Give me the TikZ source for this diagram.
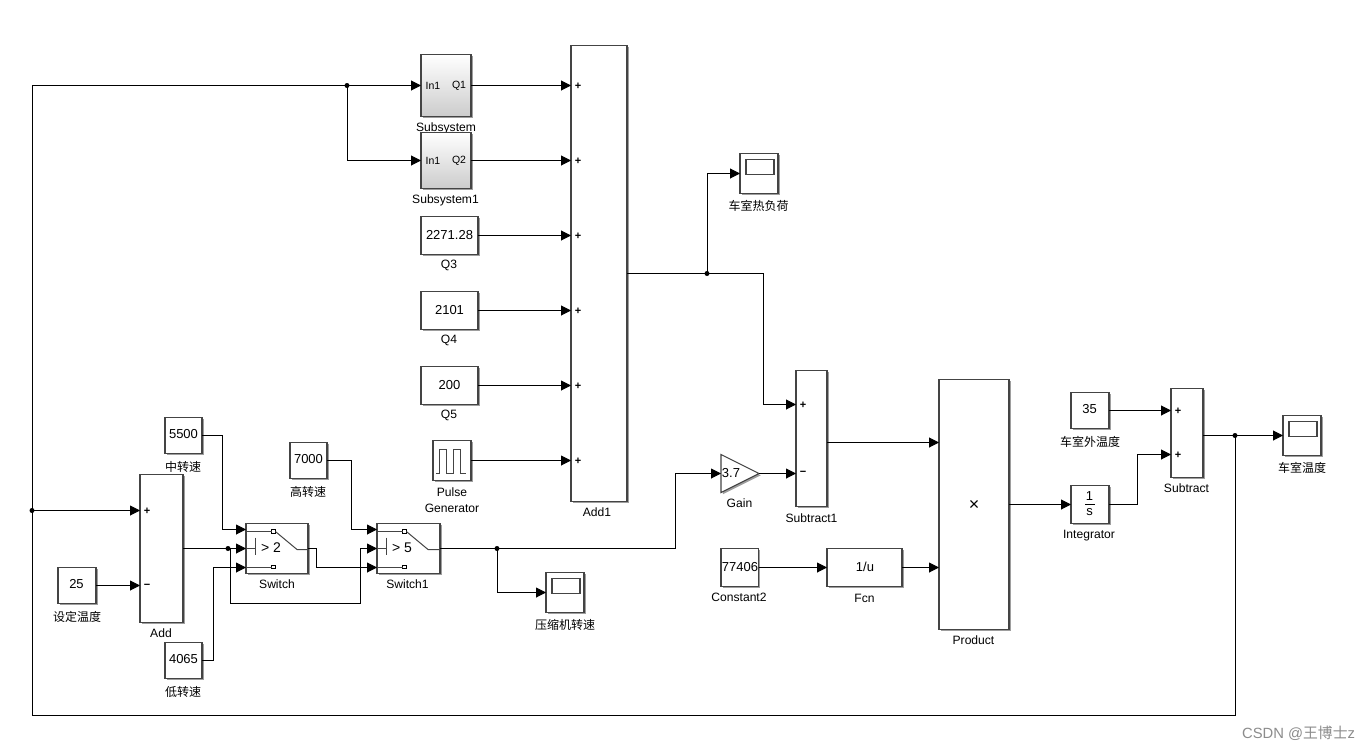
\documentclass[tikz,border=0pt]{standalone}
\usepackage{fontspec}
\setmainfont{Liberation Sans}
\newfontfamily\cjk{Noto Sans CJK SC}
\usetikzlibrary{arrows.meta,shadows}
\definecolor{edge}{HTML}{444444}
\tikzset{
  blockbase/.style={draw=edge,line width=1.35pt,fill=white,inner sep=0pt,outer sep=0pt,
    drop shadow={shadow xshift=1.8pt,shadow yshift=-1.8pt,opacity=.38,fill=black}},
  gradblock/.style={blockbase,top color=white,middle color=white,bottom color=black!20},
  val/.style={inner sep=0pt,font=\fontsize{13}{13}\selectfont},
  lbl/.style={inner sep=0pt,yshift=-.6pt,font=\fontsize{12.1}{12}\selectfont},
  cjklbl/.style={inner sep=0pt,font=\fontsize{12}{12}\selectfont\cjk},
  small/.style={inner sep=0pt,font=\fontsize{10.5}{11}\selectfont},
  sign/.style={inner sep=0pt,font=\fontsize{11}{11}\selectfont\bfseries},
  wire/.style={draw=black,line width=1pt,-{Triangle[length=10pt,width=10pt]}},
  plainwire/.style={draw=black,line width=1pt},
  dot/.style={circle,fill=black,inner sep=0pt,minimum size=5pt},
  inner/.style={draw=edge,line width=1pt},
  portmark/.style={draw=black,line width=1pt,fill=white,inner sep=0pt,minimum size=3.8pt,outer sep=0pt},
}
% a block given by its left, top, right and bottom edges
\newcommand\blk[7]{\node[#6,minimum width={(#4-#2)*1pt},minimum height={(#5-#3)*1pt}] (#1)
  at ({(#2+#4)/2},{(#3+#5)/2}) {#7};}
% inner drawing of a scope display: frame at offset from the block's corner
\newcommand\scopescreen[3]{\node[inner sep=0pt,draw=edge,line width=1.2pt,fill=white,minimum width=28pt,minimum height=15pt] (#1) at ({#2+20},{#3+13.5}) {};}
% inner drawing of a switch whose left edge is at x=#1
\newcommand\switchicon[3]{%
  \node[portmark] (#2top) at ({#1+27.5},531) {};
  \node[portmark] (#2bot) at ({#1+27.5},566.5) {};
  \draw[inner] (#1,531) -- (#2top.west);
  \draw[inner] (#1,566.5) -- (#2bot.west);
  \draw[inner] (#1,548) -- ({#1+9},548);
  \draw[inner] ({#1+9},537) -- ({#1+9},554);
  \draw[inner] (#2top.east) -- ({#1+51},549) -- ({#1+62},549);
  \node[inner sep=0pt,font=\fontsize{14}{14}\selectfont] (#2text) at ({#1+25},547) {#3};}

\begin{document}
\begin{tikzpicture}[x=1pt,y=-1pt]
\useasboundingbox[fill=white] (0,0) rectangle (1371,750);
\begin{scope}[shift={(0,.5)}]

% block captions (drawn first: the Subsystem caption runs under the block below it)
\node[lbl] (lSub) at (446,127) {Subsystem};
\node[lbl] (lSub1) at (445.5,199) {Subsystem1};
\node[lbl] (lQ3) at (449,264) {Q3};
\node[lbl] (lQ4) at (449,339) {Q4};
\node[lbl] (lQ5) at (449,414) {Q5};
\node[lbl] (lPulseA) at (452,491) {Pulse};
\node[lbl] (lPulseB) at (452,507) {Generator};
\node[lbl] (lAdd1) at (597,511) {Add1};
\node[cjklbl] (lHeat) at (758.5,205) {车室热负荷};
\node[cjklbl] (lMid) at (183,466) {中转速};
\node[cjklbl] (lHigh) at (308,491) {高转速};
\node[cjklbl] (lSet) at (77,616) {设定温度};
\node[lbl] (lAdd) at (161,632) {Add};
\node[cjklbl] (lLow) at (183,691) {低转速};
\node[lbl] (lSw) at (277,583) {Switch};
\node[lbl] (lSw1) at (407.5,583) {Switch1};
\node[cjklbl] (lComp) at (565,624) {压缩机转速};
\node[lbl] (lGain) at (739.5,502) {Gain};
\node[lbl] (lSubt1) at (811.5,517) {Subtract1};
\node[lbl] (lConst) at (739,596) {Constant2};
\node[lbl] (lFcn) at (864.5,597) {Fcn};
\node[lbl] (lProd) at (973.5,639) {Product};
\node[cjklbl] (lOut) at (1090,441) {车室外温度};
\node[lbl] (lInt) at (1089,534) {Integrator};
\node[lbl] (lSubt) at (1186.5,487) {Subtract};
\node[cjklbl] (lCab) at (1302,467) {车室温度};

% upper column
\blk{subA}{421}{54}{471}{116}{gradblock}{}
\blk{subB}{421}{132}{471}{188}{gradblock}{}
\blk{q3}{421}{216}{478}{254}{blockbase}{}
\blk{q4}{421}{291}{478}{329}{blockbase}{}
\blk{q5}{421}{366}{478}{404}{blockbase}{}
\blk{pulse}{433}{440}{471}{480}{blockbase}{}
\blk{add1}{571}{45}{627}{501}{blockbase}{}
\blk{scA}{740}{153}{778}{193}{blockbase}{}

% lower left
\blk{c5500}{165}{417}{202}{453}{blockbase}{}
\blk{c7000}{290}{442}{327}{478}{blockbase}{}
\blk{add}{140}{474}{183}{622}{blockbase}{}
\blk{c25}{58}{567}{96}{603}{blockbase}{}
\blk{c4065}{165}{642}{202}{678}{blockbase}{}
\blk{sw}{246}{523}{308}{573}{blockbase}{}
\blk{swB}{377}{523}{440}{573}{blockbase}{}
\blk{scB}{546}{572}{584}{612}{blockbase}{}

% lower right
\blk{sub1}{796}{370}{827}{506}{blockbase}{}
\blk{c77}{721}{548}{758.5}{586}{blockbase}{}
\blk{fcn}{827}{548}{902}{586}{blockbase}{}
\blk{prod}{939}{379}{1009}{629}{blockbase}{}
\blk{c35}{1071}{392}{1109}{428}{blockbase}{}
\blk{integ}{1071}{485}{1109}{523}{blockbase}{}
\blk{subt}{1171}{388}{1203}{477}{blockbase}{}
\blk{scC}{1283}{415}{1321}{455}{blockbase}{}
\draw[blockbase,line width=1.1pt] (721,454) -- (759,473) -- (721,492) -- cycle;

% block contents
\node[small] (inA) at (433,85) {In1};
\node[small] (outA) at (459,85) {Q1};
\node[small] (inB) at (433,160) {In1};
\node[small] (outB) at (459,160) {Q2};
\node[val] (vQ3) at (449.5,235) {2271.28};
\node[val] (vQ4) at (449.5,310) {2101};
\node[val] (vQ5) at (449.5,385) {200};
\node[val] (v5500) at (183.5,434) {5500};
\node[val] (v7000) at (308.5,459) {7000};
\node[val] (v25) at (76.5,584) {25};
\node[val] (v4065) at (183.5,659) {4065};
\node[val] (v77) at (740,567) {77406};
\node[val] (v35) at (1089.5,409) {35};
\node[val] (vGain) at (731,473) {3.7};
\node[val] (vFcn) at (865,566.5) {1/u};
\node[inner sep=0pt,font=\fontsize{18}{18}\selectfont] (vProd) at (974,505) {×};
\node[val] (vIntN) at (1089.5,496) {1};
\node[val] (vIntD) at (1089.5,511.5) {s};
\draw[line width=.9pt] (1085,504) -- (1095,504);

\draw[inner] (436,473) -- (439.5,473) -- (439.5,449) -- (446.5,449) -- (446.5,473)
  -- (453,473) -- (453,449) -- (460,449) -- (460,473) -- (465.5,473);

\node[sign] (pA1) at (578,86) {+};
\node[sign] (pA2) at (578,161) {+};
\node[sign] (pA3) at (578,236) {+};
\node[sign] (pA4) at (578,311) {+};
\node[sign] (pA5) at (578,386) {+};
\node[sign] (pA6) at (578,461) {+};
\node[sign] (pB1) at (147,511) {+};
\node[sign] (pB2) at (147,586) {−};
\node[sign] (pC1) at (803,405) {+};
\node[sign] (pC2) at (803,473) {−};
\node[sign] (pD1) at (1178,411) {+};
\node[sign] (pD2) at (1178,455) {+};

\scopescreen{scrA}{740}{153}
\scopescreen{scrB}{546}{572}
\scopescreen{scrC}{1283}{415}

\switchicon{246}{swi}{> 2}
\switchicon{377}{swj}{> 5}

% junctions
\node[dot] (jTop) at (347,85) {};
\node[dot] (jLeft) at (32,510) {};
\node[dot] (jAdd) at (228,548) {};
\node[dot] (jSw) at (497,548) {};
\node[dot] (jHeat) at (707,273) {};
\node[dot] (jCab) at (1235,435) {};

% ports and bends
\coordinate (fbL) at (32,715);
\coordinate (swIa) at (246,529);
\coordinate (swIb) at (246,548);
\coordinate (swIc) at (246,567);
\coordinate (swJa) at (377,529);
\coordinate (swJb) at (377,548);
\coordinate (swJc) at (377,567);
\coordinate (tap) at (230,548);
\coordinate (ret) at (360,603);
\coordinate (bendMid) at (222,529);
\coordinate (bendLow) at (213,567);
\coordinate (bendHigh) at (351,529);
\coordinate (bendSw) at (316,567);
\coordinate (bendGain) at (675,548);
\coordinate (gainIn) at (721,473);
\coordinate (gainOut) at (759,473);
\coordinate (subPlus) at (796,404);
\coordinate (subMinus) at (796,473);
\coordinate (elbow) at (763,273);
\coordinate (prodA) at (939,442);
\coordinate (prodB) at (939,567);
\coordinate (tPlusA) at (1171,410);
\coordinate (tPlusB) at (1171,454);
\coordinate (bendInt) at (1137,454);

% feedback loop
\draw[plainwire] (jCab.center) |- (fbL) |- (jTop.center);
\draw[wire] (jTop.center) -- (subA.west);
\draw[wire] (jTop.center) |- (subB.west);
\draw[wire] (jLeft.center) -- (jLeft.center -| add.west);

% into the large sum
\draw[wire] (subA.east) -- (subA.east -| add1.west);
\draw[wire] (subB.east) -- (subB.east -| add1.west);
\draw[wire] (q3.east) -- (q3.east -| add1.west);
\draw[wire] (q4.east) -- (q4.east -| add1.west);
\draw[wire] (q5.east) -- (q5.east -| add1.west);
\draw[wire] (pulse.east) -- (pulse.east -| add1.west);
\draw[wire] (add1.east) -- (elbow) |- (subPlus);
\draw[wire] (jHeat.center) |- (scA.west);

% switch chain
\draw[wire] (c25.east) -- (c25.east -| add.west);
\draw[wire] (add.east) -- (swIb);
\draw[wire] (c5500.east) -| (bendMid) -- (swIa);
\draw[wire] (c4065.east) -| (bendLow) -- (swIc);
\draw[wire] (c7000.east) -| (bendHigh) -- (swJa);
\draw[wire] (tap) |- (ret) |- (swJb);
\draw[wire] (sw.east) -| (bendSw) -- (swJc);
\draw[wire] (swB.east) -- (bendGain) |- (gainIn);
\draw[wire] (jSw.center) |- (scB.west);

% right-hand chain
\draw[wire] (gainOut) -- (subMinus);
\draw[wire] (sub1.east |- prodA) -- (prodA);
\draw[wire] (c77.east) -- (fcn.west);
\draw[wire] (fcn.east) -- (prodB);
\draw[wire] (prod.east) -- (integ.west);
\draw[wire] (c35.east) -- (tPlusA);
\draw[wire] (integ.east) -| (bendInt) -- (tPlusB);
\draw[wire] (subt.east |- scC.west) -- (scC.west);

% watermark
\node[inner sep=0pt,text=black!45,font=\fontsize{14.8}{15}\selectfont] (mark) at (1298.5,733) {CSDN @{\cjk 王博士}z};
\end{scope}
\end{tikzpicture}
\end{document}
